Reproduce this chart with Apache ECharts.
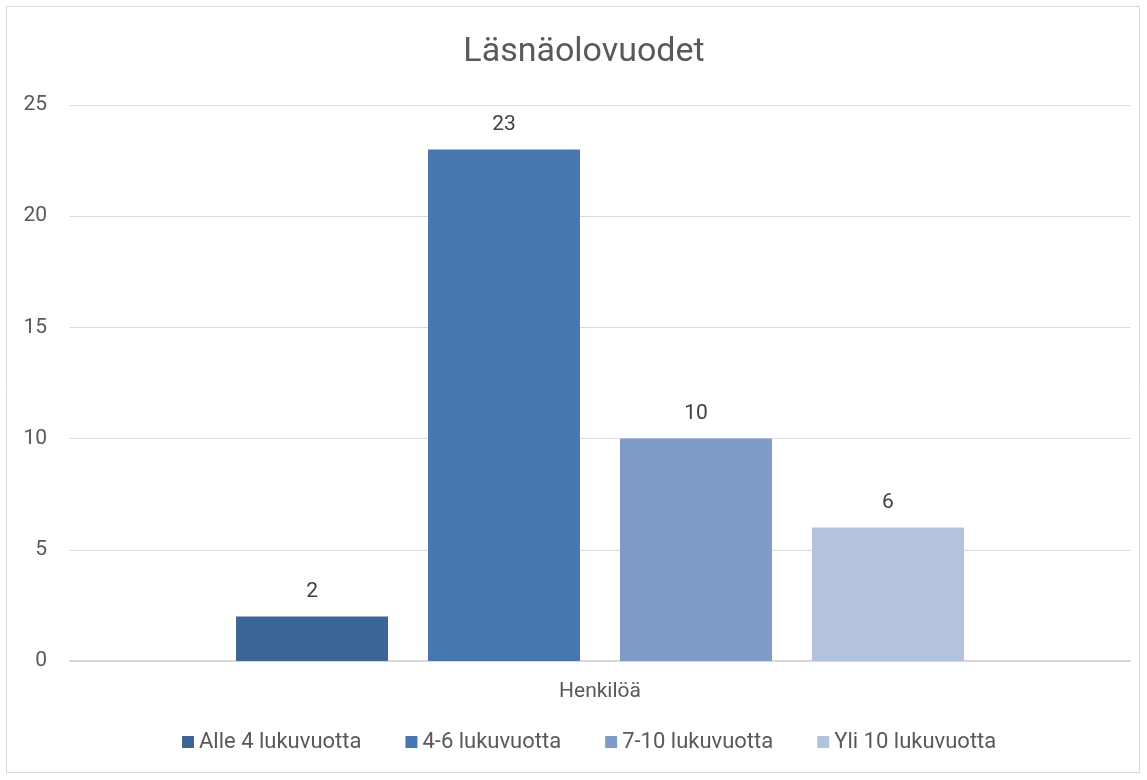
<!DOCTYPE html>
<html><head><meta charset="utf-8">
<script src="https://cdn.jsdelivr.net/npm/echarts@6/dist/echarts.min.js"></script>
<style>html,body{margin:0;padding:0;background:#fff}#c{width:1147px;height:780px}</style>
</head><body><div id="c"></div>
<script>
const categories = ["Henkilöä"];
const seriesNames = ["Alle 4 lukuvuotta", "4-6 lukuvuotta", "7-10 lukuvuotta", "Yli 10 lukuvuotta"];
const seriesValues = [[2], [23], [10], [6]];
const seriesColors = ["#3A6595", "#4878B0", "#7F9CC8", "#B4C3DD"];
const yTicks = [0, 5, 10, 15, 20, 25];

const FONT = '"Roboto", "Liberation Sans", sans-serif';
const chart = echarts.init(document.getElementById('c'));
chart.setOption({
  backgroundColor: '#fff',
  animation: false,
  textStyle: { fontFamily: FONT },
  title: {
    text: 'Läsnäolovuodet', left: 579, top: 30, textAlign: 'center',
    textStyle: { fontFamily: FONT, fontSize: 34, fontWeight: 'normal', color: '#595959' }
  },
  graphic: [{
    type: 'rect', shape: { x: 6.5, y: 6.5, width: 1133, height: 766 },
    style: { fill: 'none', stroke: '#d9d9d9', lineWidth: 1 }, silent: true
  }],
  legend: {
    bottom: 22, left: 177, itemWidth: 12, itemHeight: 12, itemGap: 44,
    icon: 'rect',
    textStyle: { fontFamily: FONT, fontSize: 22, color: '#595959' },
    data: seriesNames
  },
  grid: { left: 70, right: 17, top: 105, bottom: 119 },
  xAxis: {
    type: 'category', data: categories,
    axisLine: { lineStyle: { color: '#d9d9d9', width: 2 } },
    axisTick: { show: false },
    axisLabel: { fontFamily: FONT, fontSize: 21, color: '#595959', margin: 20 }
  },
  yAxis: {
    type: 'value', min: yTicks[0], max: yTicks[yTicks.length - 1], interval: 5,
    axisLine: { show: false }, axisTick: { show: false },
    splitLine: { lineStyle: { color: '#d9d9d9', width: 1 } },
    axisLabel: { fontFamily: FONT, fontSize: 21, color: '#595959', margin: 23 }
  },
  series: seriesNames.map((n, i) => ({
    name: n, type: 'bar', data: seriesValues[i],
    barWidth: 152, barGap: '26.3%',
    itemStyle: { color: seriesColors[i] },
    label: { show: true, position: 'top', distance: 14, fontFamily: FONT, fontSize: 21, color: '#404040' }
  }))
});
</script></body></html>
